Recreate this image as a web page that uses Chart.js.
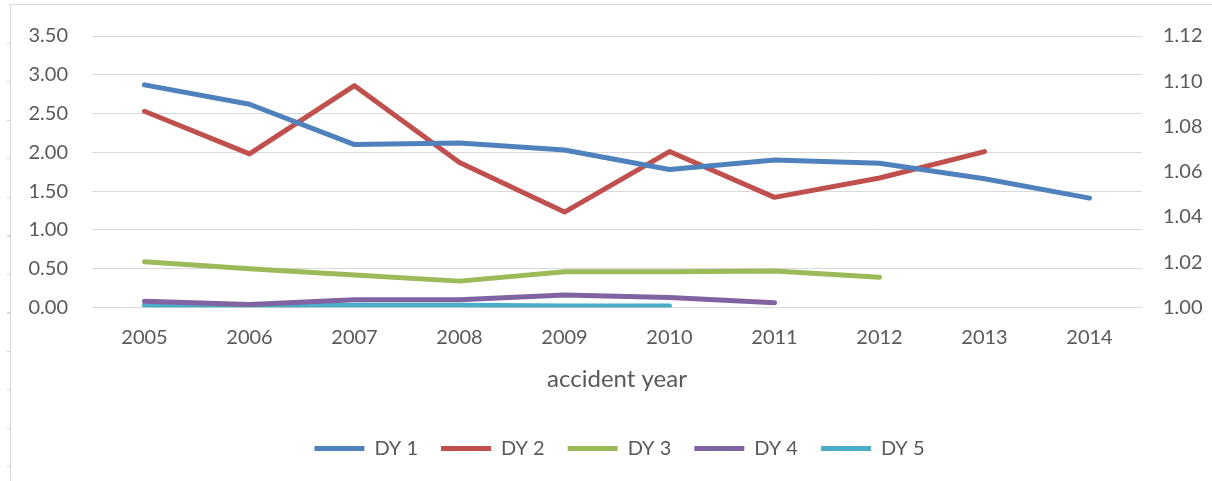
<!DOCTYPE html>
<html>
<head>
<meta charset="utf-8">
<script src="https://cdn.jsdelivr.net/npm/chart.js@4/dist/chart.umd.min.js"></script>
<style>
  html, body { margin: 0; padding: 0; background: #fff; }
  #wrap { position: relative; width: 1212px; height: 481px; overflow: hidden; }
  #frameTop { position: absolute; left: 10px; top: 4px; width: 1202px; height: 1px; background: #d9d9d9; }
  #frameLeft { position: absolute; left: 10px; top: 4px; width: 1px; height: 477px; background: #d9d9d9; }
  #frameTicks { position: absolute; left: 7px; top: 43px; width: 3px; height: 438px;
    background: repeating-linear-gradient(to bottom, #d9d9d9 0px, #d9d9d9 1px, transparent 1px, transparent 38.5px); }
  canvas { position: absolute; left: 0; top: 0; }
</style>
</head>
<body>
<div id="wrap">
  <canvas id="c" width="1212" height="481"></canvas>
  <div id="frameTop"></div>
  <div id="frameLeft"></div>
  <div id="frameTicks"></div>
</div>
<script>
const categories = ['2005','2006','2007','2008','2009','2010','2011','2012','2013','2014'];
const seriesNames = ['DY 1','DY 2','DY 3','DY 4','DY 5'];
const dy1 = [2.87, 2.62, 2.10, 2.12, 2.03, 1.78, 1.90, 1.86, 1.66, 1.41];
const dy2 = [2.53, 1.98, 2.86, 1.87, 1.23, 2.01, 1.42, 1.67, 2.01, null];
const dy3 = [0.59, 0.50, 0.42, 0.34, 0.46, 0.46, 0.47, 0.39, null, null];
const dy4 = [0.08, 0.04, 0.10, 0.10, 0.16, 0.13, 0.06, null, null, null];
const dy5 = [0.03, 0.03, 0.03, 0.03, 0.02, 0.02, null, null, null, null];
const leftTicks = { min: 0, max: 3.5, step: 0.5 };
const rightTicks = { min: 1.00, max: 1.12, step: 0.02 };
const xTitle = 'accident year';

const colors = ['#4F81BD', '#C0504D', '#9BBB59', '#8064A2', '#4BACC6'];
const seriesValues = [dy1, dy2, dy3, dy4, dy5];
const FONT = 'Lato, "Open Sans", sans-serif';

const datasets = seriesValues.map((vals, i) => ({
  label: seriesNames[i],
  data: vals,
  borderColor: colors[i],
  backgroundColor: colors[i],
  borderWidth: 5,
  borderCapStyle: 'round',
  borderJoinStyle: 'round',
  pointRadius: 0,
  pointHoverRadius: 0,
  tension: 0,
  spanGaps: false,
  yAxisID: 'y',
  pointStyle: 'line'
}));

new Chart(document.getElementById('c'), {
  type: 'line',
  data: { labels: categories, datasets },
  options: {
    responsive: false,
    animation: false,
    layout: { padding: { top: 29.5, bottom: 12.5, left: 27, right: 0 } },
    plugins: {
      tooltip: { enabled: false },
      legend: {
        position: 'bottom',
        labels: {
          usePointStyle: true,
          pointStyleWidth: 50,
          boxWidth: 50,
          boxHeight: 20,
          padding: 23,
          color: '#595959',
          font: { family: FONT, size: 20 }
        }
      }
    },
    scales: {
      x: {
        type: 'category',
        offset: true,
        grid: { display: false },
        border: { display: false },
        ticks: { color: '#595959', font: { family: FONT, size: 20 }, padding: 10, maxRotation: 0 },
        title: { display: true, text: xTitle, color: '#595959', font: { family: FONT, size: 24 }, padding: { top: 0, bottom: 22 } },
        afterFit: (s) => { s.height = 108; }
      },
      y: {
        position: 'left',
        min: leftTicks.min,
        max: leftTicks.max,
        grid: { color: '#d9d9d9', lineWidth: 1, drawTicks: false },
        border: { display: false },
        ticks: {
          stepSize: leftTicks.step,
          padding: 24,
          color: '#595959',
          font: { family: FONT, size: 20 },
          callback: (v) => Number(v).toFixed(2)
        },
        afterFit: (s) => { s.width = 65; }
      },
      y2: {
        position: 'right',
        min: rightTicks.min,
        max: rightTicks.max,
        grid: { display: false, drawTicks: false },
        border: { display: false },
        ticks: {
          stepSize: rightTicks.step,
          padding: 21,
          color: '#595959',
          font: { family: FONT, size: 20 },
          callback: (v) => Number(v).toFixed(2)
        },
        afterFit: (s) => { s.width = 70; }
      }
    }
  }
});
</script>
</body>
</html>
